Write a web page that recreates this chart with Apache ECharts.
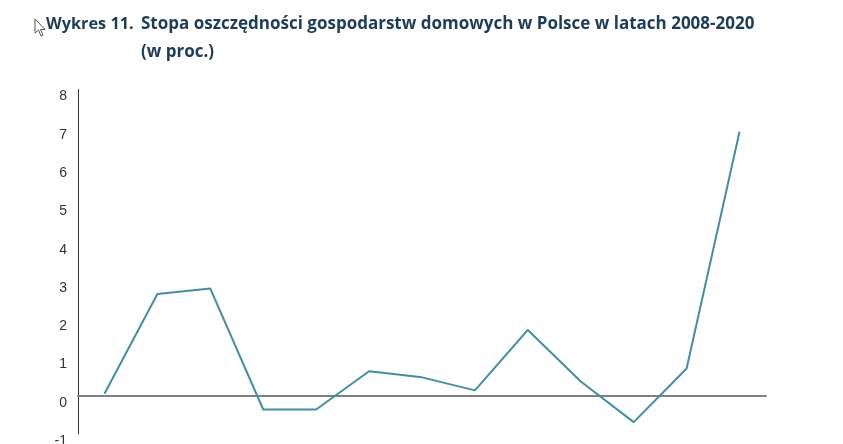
<!DOCTYPE html>
<html>
<head>
<meta charset="utf-8">
<script src="https://cdn.jsdelivr.net/npm/echarts@6/dist/echarts.min.js"></script>
<style>
html,body{margin:0;padding:0;background:#fff;}
#chart{width:843px;height:444px;}
</style>
</head>
<body>
<div id="chart"></div>
<script>
// Data
var years = ['2008','2009','2010','2011','2012','2013','2014','2015','2016','2017','2018','2019','2020'];
var savingsRate = [0.05, 2.66, 2.80, -0.36, -0.36, 0.64, 0.48, 0.14, 1.72, 0.37, -0.69, 0.71, 6.90];
var yTicks = { min: -1, max: 8, interval: 1 };
var titleLabel = 'Wykres 11.';
var titleLine1 = 'Stopa oszczędności gospodarstw domowych w Polsce w latach 2008-2020';
var titleLine2 = '(w proc.)';

var chart = echarts.init(document.getElementById('chart'));
var titleFont = 'bold 17px "Open Sans", "DejaVu Sans", sans-serif';
var labelFont = 'bold 16.3px "Open Sans", "DejaVu Sans", sans-serif';
var titleColor = '#1c3d58';
chart.setOption({
  animation: false,
  backgroundColor: '#ffffff',
  grid: { left: 78, right: 77, top: 89.6, bottom: 10, containLabel: false, outerBoundsMode: 'none' },
  xAxis: {
    type: 'category',
    data: years,
    boundaryGap: true,
    axisLine: { onZero: true, lineStyle: { color: '#808080', width: 2 } },
    axisTick: { show: false },
    axisLabel: { show: false },
    splitLine: { show: false }
  },
  yAxis: {
    type: 'value',
    min: yTicks.min,
    max: yTicks.max,
    interval: yTicks.interval,
    axisLine: { show: true, lineStyle: { color: '#333333', width: 1 } },
    axisTick: { show: false },
    splitLine: { show: false },
    axisLabel: {
      color: '#333333',
      fontSize: 14,
      fontFamily: 'Liberation Sans, Arial, sans-serif',
      margin: 11,
      verticalAlign: 'top'
    }
  },
  series: [{
    type: 'line',
    data: savingsRate,
    symbol: 'none',
    lineStyle: { color: '#3f8fa8', width: 2 }
  }],
  graphic: [
    { type: 'text', left: 46, top: 16.5, style: { text: titleLabel, font: labelFont, fill: titleColor } },
    { type: 'text', left: 141, top: 16, style: { text: titleLine1, font: titleFont, fill: titleColor } },
    { type: 'text', left: 141, top: 44, style: { text: titleLine2, font: titleFont, fill: titleColor } },
    { type: 'polygon', shape: { points: [[35,19],[35,33],[38.5,30],[41,36],[43,35],[40.5,29.5],[45,29.5]] },
      style: { fill: '#ffffff', stroke: '#555555', lineWidth: 1 } }
  ]
});
</script>
</body>
</html>
